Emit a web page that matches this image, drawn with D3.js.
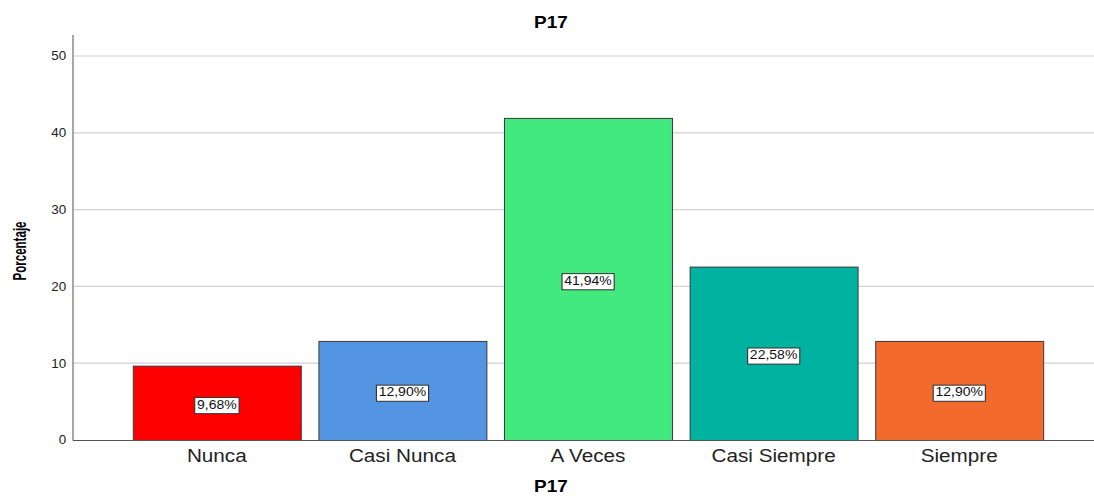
<!DOCTYPE html>
<html><head><meta charset="utf-8">
<script src="https://cdn.jsdelivr.net/npm/d3@7"></script>
<style>body{margin:0;background:#fff}svg{display:block}</style>
</head><body>
<svg id="c" width="1094" height="496"></svg>
<script>
const categories = ["Nunca", "Casi Nunca", "A Veces", "Casi Siempre", "Siempre"];
const values = [9.68, 12.90, 41.94, 22.58, 12.90];
const valueLabels = ["9,68%", "12,90%", "41,94%", "22,58%", "12,90%"];
const barColors = ["#ff0000", "#5394e3", "#42e97e", "#00b2a0", "#f26a2c"];
const yTicks = [0, 10, 20, 30, 40, 50];

(function () {
const svg = d3.select("#c");
const mLeft = 73, mRight = 1094, mTop = 35, mBottom = 440;
const SX = 1.12;
const FONT = "Liberation Sans, Arial, sans-serif";

const y = d3.scaleLinear().domain([0, 50]).range([mBottom, 56]);
const x = d3.scaleBand().domain(categories).range([124, 1052]).paddingInner(0.095).paddingOuter(0.0475);

// gridlines
svg.append("g").selectAll("line").data(yTicks.filter(d => d > 0)).join("line")
  .attr("x1", mLeft).attr("x2", mRight)
  .attr("y1", d => y(d)).attr("y2", d => y(d))
  .attr("stroke", "#d2d2d2").attr("stroke-width", 1.2);

// y axis
const yAxis = d3.axisLeft(y).tickValues(yTicks).tickSize(0).tickPadding(6).tickFormat(d3.format("d"));
const gy = svg.append("g").attr("transform", `translate(${mLeft},0)`).call(yAxis);
gy.select(".domain").remove();
gy.selectAll("text").attr("font-family", FONT).attr("font-size", 12).attr("fill", "#222")
  .attr("transform", `scale(${SX},1)`);
svg.append("line").attr("x1", mLeft).attr("x2", mLeft).attr("y1", mTop).attr("y2", mBottom + 0.5)
  .attr("stroke", "#8a8a8a").attr("stroke-width", 1.5);

// bars
svg.append("g").selectAll("rect").data(values).join("rect")
  .attr("x", (d, i) => x(categories[i]) + 0.5)
  .attr("y", d => y(d) + 0.5)
  .attr("width", x.bandwidth())
  .attr("height", d => mBottom - y(d))
  .attr("fill", (d, i) => barColors[i])
  .attr("stroke", "#3a3a3a").attr("stroke-width", 1);

// x axis baseline
svg.append("line").attr("x1", mLeft).attr("x2", mRight).attr("y1", mBottom + 0.5).attr("y2", mBottom + 0.5)
  .attr("stroke", "#555").attr("stroke-width", 1);

// x axis labels
const xAxis = d3.axisBottom(x).tickSize(0).tickPadding(9);
const gx = svg.append("g").attr("transform", `translate(0,${mBottom})`).call(xAxis);
gx.select(".domain").remove();
gx.selectAll("text").attr("font-family", FONT).attr("font-size", 18.5).attr("fill", "#222")
  .attr("transform", `scale(${SX},1)`);

// value labels
const lg = svg.append("g").selectAll("g").data(values).join("g")
  .attr("transform", (d, i) => `translate(${x(categories[i]) + x.bandwidth() / 2},${(y(d) + mBottom) / 2 + 1.5}) scale(${SX},1)`);
lg.append("text").text((d, i) => valueLabels[i])
  .attr("text-anchor", "middle").attr("dy", "0.36em")
  .attr("font-family", FONT).attr("font-size", 12.5).attr("fill", "#111")
  .each(function () {
    const b = this.getBBox();
    d3.select(this.parentNode).insert("rect", "text")
      .attr("x", b.x - 2).attr("y", b.y).attr("width", b.width + 4).attr("height", b.height + 2)
      .attr("fill", "#fff").attr("stroke", "#333").attr("stroke-width", 1);
  });

// titles
function title(tx, ty, txt) {
  svg.append("g").attr("transform", `translate(${tx},${ty}) scale(${SX},1)`)
    .append("text").attr("text-anchor", "middle")
    .attr("font-family", FONT).attr("font-weight", "bold").attr("font-size", 17).attr("fill", "#000").text(txt);
}
title(551, 28, "P17");
title(551, 492, "P17");
svg.append("g").attr("transform", `translate(26,251) scale(${SX},1) rotate(-90)`)
  .append("text").attr("text-anchor", "middle")
  .attr("font-family", "Liberation Sans Narrow, Arial Narrow, Liberation Sans, sans-serif")
  .attr("font-weight", "bold").attr("font-size", 16.5).attr("fill", "#000")
  .attr("textLength", 59).attr("lengthAdjust", "spacingAndGlyphs").text("Porcentaje");
})();
</script>
</body></html>
